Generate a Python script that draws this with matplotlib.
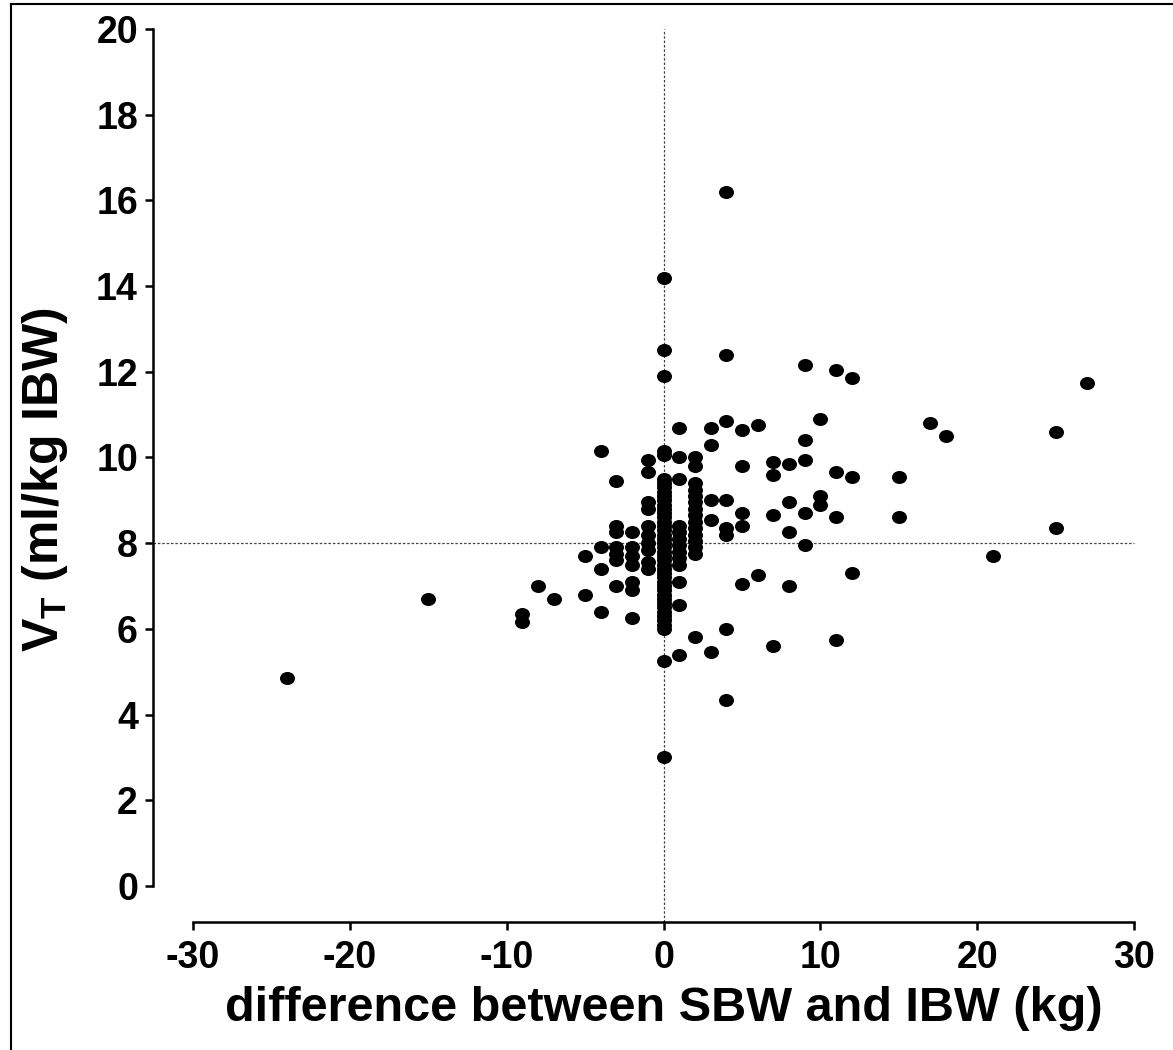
import matplotlib
matplotlib.use("Agg")
import matplotlib.pyplot as plt
from matplotlib.path import Path
from matplotlib.lines import Line2D
import numpy as np

# ---- data ----
diff_kg = (
    [-24] + [-15] + [-9, -9] + [-8] + [-7] + [-5, -5] + [-4] * 4 + [-3] * 7 + [-2] * 7 + [-1] * 10
    + [0] * 43 + [1] * 13 + [2] * 15 + [3] * 5 + [4] * 8 + [5] * 5 + [6] * 2 + [7] * 4 + [8] * 4
    + [9] * 5 + [10] * 3 + [11] * 4 + [12] * 3 + [15] * 2 + [17] + [18] + [21] + [25] * 2 + [27]
)
vt_ml_kg = [
    4.85,
    6.7,
    6.35, 6.15,
    7.0,
    6.7,
    7.7, 6.8,
    10.15, 7.9, 7.4, 6.4,
    9.45, 8.4, 8.25, 7.9, 7.75, 7.6, 7.0,
    8.25, 7.9, 7.7, 7.5, 7.1, 6.9, 6.25,
    9.95, 9.65, 8.95, 8.8, 8.4, 8.2, 8.0, 7.85, 7.55, 7.4,
    14.2, 12.5, 11.9, 10.15, 10.05, 9.5, 9.4, 9.3, 9.2, 9.1, 9.0, 8.9, 8.8, 8.7, 8.6, 8.5,
    8.4, 8.3, 8.2, 8.1, 8.0, 7.9, 7.8, 7.7, 7.6, 7.5, 7.4, 7.3, 7.2, 7.1, 7.0, 6.9, 6.8,
    6.7, 6.6, 6.5, 6.4, 6.3, 6.2, 6.1, 6.0, 5.25, 3.0,
    10.7, 10.0, 9.5, 8.4, 8.25, 8.1, 7.95, 7.8, 7.65, 7.5, 7.1, 6.55, 5.4,
    10.0, 9.8, 9.4, 9.25, 9.1, 8.95, 8.8, 8.65, 8.5, 8.35, 8.2, 8.05, 7.9, 7.75, 5.8,
    10.7, 10.3, 9.0, 8.55, 5.45,
    16.2, 12.4, 10.85, 9.0, 8.35, 8.2, 6.0, 4.35,
    10.65, 9.8, 8.7, 8.4, 7.05,
    10.75, 7.25,
    9.9, 9.6, 8.65, 5.6,
    9.85, 8.95, 8.25, 7.0,
    12.15, 10.4, 9.95, 8.7, 7.95,
    10.9, 9.1, 8.9,
    12.05, 9.65, 8.6, 5.75,
    11.85, 9.55, 7.3,
    9.55, 8.6,
    10.8,
    10.5,
    7.7,
    10.6, 8.35,
    11.75,
]
x_ticks = [-30, -20, -10, 0, 10, 20, 30]
y_ticks = [0, 2, 4, 6, 8, 10, 12, 14, 16, 18, 20]
ref_x = 0
ref_y = 8
x_label = "difference between SBW and IBW (kg)"
y_label = r"$\mathrm{V_T}$ (ml/kg IBW)"

# ---- style ----
plt.rcParams['font.family'] = ['Liberation Sans', 'DejaVu Sans']
plt.rcParams['font.weight'] = 'bold'
plt.rcParams['mathtext.fontset'] = 'custom'
plt.rcParams['mathtext.rm'] = 'Liberation Sans:bold'
plt.rcParams['mathtext.it'] = 'Liberation Sans:bold'
plt.rcParams['mathtext.bf'] = 'Liberation Sans:bold'

W, H, DPI = 1173, 1050, 100
fig = plt.figure(figsize=(W / DPI, H / DPI), dpi=DPI)
ax = fig.add_axes([193 / W, 1 - 886 / H, (1134 - 193) / W, (886 - 29) / H])

# slightly wide elliptical dot like the reference
circ = Path.unit_circle()
ell = Path(circ.vertices * np.array([1.15, 1.0]), circ.codes)
ax.plot(diff_kg, vt_ml_kg, linestyle='none', marker=ell, markersize=10.8,
        color='black', markeredgewidth=0, zorder=3, clip_on=False)

ax.set_xlim(-30, 30)
ax.set_ylim(0, 20)

# reference lines spanning into the offset area
ax.axhline(ref_y, xmin=-40 / 941, xmax=1, color='#444444', linewidth=0.9,
           linestyle=(0, (2, 1.5)), clip_on=False, zorder=1)
ax.axvline(ref_x, ymin=-36 / 857, ymax=1, color='#444444', linewidth=0.9,
           linestyle=(0, (2, 1.5)), clip_on=False, zorder=1)

for s in ['top', 'right']:
    ax.spines[s].set_visible(False)
ax.spines['left'].set_position(('outward', 40 * 72 / DPI))
ax.spines['bottom'].set_position(('outward', 36 * 72 / DPI))
for s in ['left', 'bottom']:
    ax.spines[s].set_linewidth(1.8)

ax.set_xticks(x_ticks)
ax.set_yticks(y_ticks)
ax.set_xticklabels([str(v) for v in x_ticks])
ax.set_yticklabels([str(v) for v in y_ticks])
ax.tick_params(axis='both', direction='out', length=5.8, width=1.8, labelsize=27)
ax.tick_params(axis='y', pad=5)
ax.tick_params(axis='x', pad=7)

ax.set_xlabel(x_label, fontsize=35, fontweight='bold')
ax.xaxis.set_label_coords(0.5, (886 - 986) / 857)
ax.set_ylabel(y_label, fontsize=36, fontweight='bold')
ax.yaxis.set_label_coords((70 - 193) / 941, (886 - 480) / 857)

# figure frame (left and top edges visible)
fig.add_artist(Line2D([11 / W, 11 / W], [0, 1 - 4 / H], transform=fig.transFigure,
                      color='black', linewidth=1.5))
fig.add_artist(Line2D([11 / W, 1], [1 - 4 / H, 1 - 4 / H], transform=fig.transFigure,
                      color='black', linewidth=1.5))

fig.savefig('out.png', dpi=DPI)
